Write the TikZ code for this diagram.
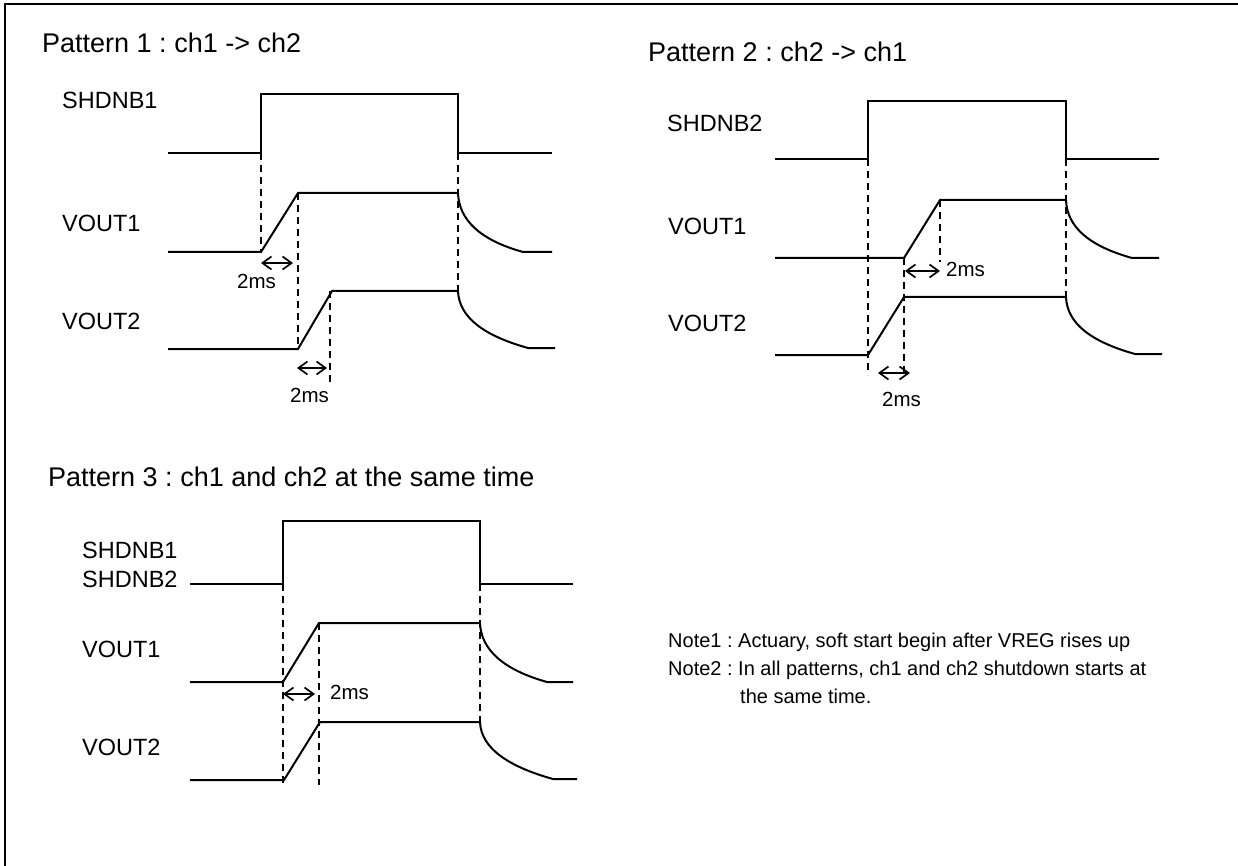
\documentclass[tikz,border=0pt]{standalone}
\usepackage{fontspec}
\setmainfont{Liberation Sans}
\usetikzlibrary{arrows.meta}
\frenchspacing

\begin{document}
\begin{tikzpicture}[
  x=1pt, y=-1pt,
  wave/.style={line width=2pt, line join=miter},
  guide/.style={line width=1.6pt, dash pattern=on 7pt off 5pt},
  span/.style={line width=1.7pt, {Straight Barb[length=9pt,width=13pt]}-{Straight Barb[length=9pt,width=13pt]}},
  title/.style={anchor=base west, inner sep=0pt, font=\fontsize{27}{32}\selectfont},
  sig/.style={anchor=base west, inner sep=0pt, font=\fontsize{23.5}{28}\selectfont},
  tick/.style={anchor=base west, inner sep=0pt, font=\fontsize{20.5}{24}\selectfont},
  note/.style={anchor=base west, inner sep=0pt, font=\fontsize{20}{24}\selectfont}
]
  \useasboundingbox (0,0) rectangle (1238,866);
  \draw[line width=2pt] (5,866) -- (5,4) -- (1238,4);

  % pattern 1
  \node[title] (p1title) at (42,53) {Pattern 1 : ch1 -> ch2};
  \node[sig] (p1shdnb) at (62,109) {SHDNB1};
  \node[sig] (p1vout1) at (62,232) {VOUT1};
  \node[sig] (p1vout2) at (62,329) {VOUT2};
  \draw[wave] (168,153) -- (261,153) -- (261,94) -- (458,94) -- (458,153) -- (552,153);
  \draw[wave] (168,252) -- (261,252) -- (298,193) -- (458,193)
    .. controls +(1,27) and +(-43,-12) .. (523,252) -- (552,252);
  \draw[wave] (168,349) -- (298,349) -- (332,291) -- (458,291)
    .. controls +(1,27) and +(-43,-12) .. (528,348) -- (555,348);
  \draw[guide] (261,153) -- (261,252);
  \draw[guide] (298,193) -- (298,349);
  \draw[guide] (330,291) -- (330,382);
  \draw[guide] (458,153) -- (458,291);
  \draw[span] (261,263) -- (293,263);
  \node[tick] (p1ms1) at (237,288) {2ms};
  \draw[span] (297,368) -- (327,368);
  \node[tick] (p1ms2) at (290,402) {2ms};

  % pattern 2
  \node[title] (p2title) at (648,62) {Pattern 2 : ch2 -> ch1};
  \node[sig] (p2shdnb) at (667,132) {SHDNB2};
  \node[sig] (p2vout1) at (668,235) {VOUT1};
  \node[sig] (p2vout2) at (668,331) {VOUT2};
  \draw[wave] (775,159) -- (868,159) -- (868,101) -- (1066,101) -- (1066,159) -- (1159,159);
  \draw[wave] (775,258) -- (904,258) -- (940,200) -- (1066,200)
    .. controls +(1,27) and +(-43,-12) .. (1132,258) -- (1159,258);
  \draw[wave] (775,355) -- (868,355) -- (904,297) -- (1066,297)
    .. controls +(1,27) and +(-43,-12) .. (1135,354) -- (1162,354);
  \draw[guide] (868,159) -- (868,375);
  \draw[guide] (904,258) -- (904,375);
  \draw[guide] (940,200) -- (940,262);
  \draw[guide] (1066,159) -- (1066,297);
  \draw[span] (905,271) -- (940,271);
  \node[tick] (p2ms1) at (946,277) {2ms};
  \draw[span] (878,373) -- (910,373);
  \node[tick] (p2ms2) at (882,406) {2ms};

  % pattern 3
  \node[title] (p3title) at (48,486) {Pattern 3 : ch1 and ch2 at the same time};
  \node[sig] (p3shdnb1) at (82,558) {SHDNB1};
  \node[sig] (p3shdnb2) at (82,587) {SHDNB2};
  \node[sig] (p3vout1) at (82,657) {VOUT1};
  \node[sig] (p3vout2) at (82,755) {VOUT2};
  \draw[wave] (190,584) -- (283,584) -- (283,521) -- (480,521) -- (480,584) -- (573,584);
  \draw[wave] (190,682) -- (283,682) -- (319,623) -- (480,623)
    .. controls +(1,27) and +(-43,-12) .. (547,682) -- (573,682);
  \draw[wave] (190,780) -- (284,780) -- (320,722) -- (480,722)
    .. controls +(1,27) and +(-43,-12) .. (553,779) -- (577,779);
  \draw[guide] (283,584) -- (283,785);
  \draw[guide] (319,623) -- (319,785);
  \draw[guide] (480,584) -- (480,722);
  \draw[span] (283,694) -- (315,694);
  \node[tick] (p3ms) at (330,699) {2ms};

  % notes
  \node[note] (note1) at (668,647) {Note1 : Actuary, soft start begin after VREG rises up};
  \node[note] (note2) at (668,675) {Note2 : In all patterns, ch1 and ch2 shutdown starts at};
  \node[note] (note3) at (740,703) {the same time.};
\end{tikzpicture}
\end{document}
